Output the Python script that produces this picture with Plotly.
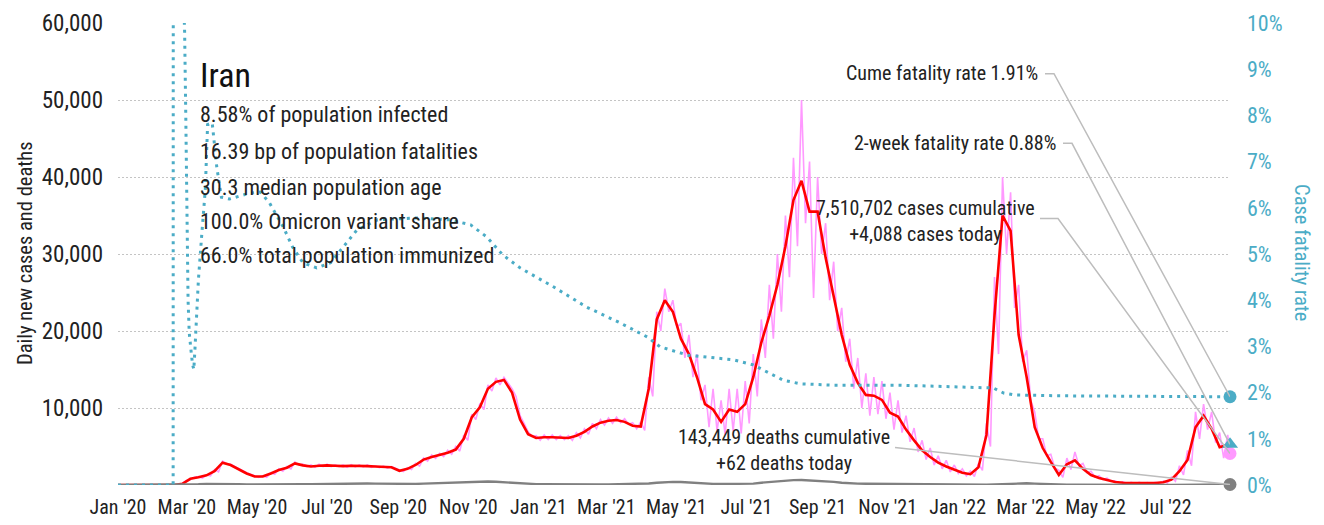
import pandas as pd
import plotly.graph_objects as go

FONT = "Roboto Condensed, Liberation Sans Narrow, Arial Narrow, sans-serif"
CYAN = "#4BACC6"
PINK = "#FF99FF"
RED = "#FF0000"
GRAY = "#808080"
LEADER = "#BDBDBD"
INK = "#222222"

START = "2020-01-01"
END = "2022-08-26"

# Daily new cases (raw reports), sampled twice a week
pink_cases = [
    0, 0, 0, 0, 0, 0, 0, 0, 0, 0, 0, 0, 0, 0,
    0, 30, 200, 600, 700, 1000, 1100, 900, 1300, 1200, 2000, 1700, 3100, 2800, 2700, 2400, 2100, 1800, 1600, 1400,
    1200, 1000, 1200, 1000, 1600, 1400, 2100, 1800, 2400, 2100, 3000, 2600, 2700, 2400, 2600, 2300, 2700, 2400, 2700, 2400,
    2600, 2400, 2600, 2300, 2650, 2350, 2600, 2350, 2600, 2300, 2500, 2250, 2450, 2200, 2400, 2150, 2000, 1750, 2250, 2000,
    2800, 2450, 3500, 3100, 3900, 3450, 4100, 3700, 4500, 4000, 5000, 4400, 6500, 5800, 9200, 8500, 10600, 9800, 13000, 12200,
    13900, 13000, 14000, 13300, 12500, 11500, 9000, 8000, 6900, 6300, 6400, 5800, 6500, 5900, 6500, 5900, 6400, 5900, 6400, 5800,
    6800, 6100, 7300, 6600, 8000, 7300, 8500, 7800, 8700, 8000, 8800, 8100, 8600, 7900, 8100, 7300, 8200, 7100, 14000, 11500,
    22500, 20000, 25500, 22500, 24000, 20500, 21000, 16500, 19500, 14000, 17000, 11000, 13000, 7500, 12500, 7000, 11000, 6500, 12500, 7000,
    12500, 6700, 13500, 8000, 17000, 11500, 21500, 16500, 26000, 19000, 30000, 22500, 35000, 27000, 42500, 31000, 50000, 34000, 42000, 24300,
    40000, 30000, 34000, 24000, 29000, 20000, 23000, 16000, 19000, 12500, 16500, 10000, 14500, 9000, 14000, 9200, 13500, 8600, 12000, 7200,
    11000, 6800, 9000, 5600, 7400, 4300, 5800, 3300, 4800, 2600, 3800, 2100, 3200, 1700, 2600, 1500, 2100, 1200, 1800, 1100,
    2800, 1900, 8000, 5000, 27000, 17000, 40000, 30000, 38000, 23000, 26000, 16000, 17500, 11000, 9500, 6000, 6000, 3800, 4000, 2200,
    1900, 1000, 3500, 2000, 4300, 2500, 2800, 1600, 1800, 1000, 1200, 700, 900, 500, 550, 300, 400, 200, 350, 200,
    350, 200, 330, 180, 350, 200, 500, 250, 1000, 500, 2500, 1300, 4500, 2500, 9500, 6000, 10500, 7200, 9500, 5500,
    6800, 3500, 6500, 4088,
]

# 7-day average of new cases, weekly, plus the latest day
avg_cases = [
    0, 0, 0, 0, 0, 0, 0, 0, 150, 800,
    1000, 1250, 1800, 2900, 2600, 2000, 1500, 1100, 1100, 1500,
    1950, 2250, 2800, 2550, 2400, 2500, 2550, 2500, 2450, 2500,
    2500, 2450, 2400, 2350, 2300, 1850, 2100, 2600, 3300, 3650,
    3900, 4200, 4600, 6000, 8800, 10100, 12500, 13400, 13650, 12000,
    8500, 6600, 6100, 6200, 6200, 6150, 6100, 6400, 6900, 7600,
    8100, 8350, 8450, 8200, 7700, 7600, 12500, 21500, 24000, 22500,
    19000, 17000, 14000, 10500, 9800, 8200, 9800, 9500, 10500, 14000,
    18500, 22000, 26000, 31000, 37000, 39500, 35500, 35500, 29500, 24500,
    19500, 15600, 13260, 11700, 11600, 11050, 9400, 8900, 7200, 5800,
    4500, 3640, 2900, 2400, 2000, 1600, 1400, 2300, 6500, 22000,
    35000, 33000, 19500, 14000, 7500, 4800, 3000, 1300, 2700, 3200,
    2100, 1300, 900, 650, 400, 300, 260, 260, 250, 260,
    350, 700, 1800, 3250, 7500, 9000, 7300, 4900, 5200,
    4300,
]

# Daily deaths, weekly, plus the latest day
daily_deaths = [
    0, 0, 0, 0, 0, 0, 0, 2, 30, 60,
    90, 130, 140, 140, 120, 90, 70, 60, 50, 45,
    50, 60, 70, 90, 110, 130, 150, 190, 210, 210,
    200, 190, 180, 160, 130, 120, 120, 140, 180, 220,
    250, 300, 350, 400, 430, 440, 450, 420, 350, 280,
    200, 150, 120, 100, 85, 80, 75, 75, 75, 80,
    85, 85, 90, 90, 100, 130, 200, 290, 360, 400,
    380, 300, 230, 170, 150, 130, 120, 120, 130, 180,
    300, 400, 500, 580, 630, 640, 600, 560, 480, 400,
    300, 220, 180, 160, 150, 130, 100, 90, 75, 60,
    50, 45, 40, 35, 30, 30, 25, 25, 35, 60,
    120, 200, 240, 230, 180, 130, 90, 60, 40, 30,
    20, 15, 12, 10, 8, 6, 5, 5, 5, 6,
    8, 12, 20, 35, 55, 70, 75, 65, 62,
    62,
]

# Cumulative case fatality rate (%)
cfr_dates = [
    "2020-01-01", "2020-02-18", "2020-02-19", "2020-02-24", "2020-02-27", "2020-02-28",
    "2020-02-29", "2020-03-01", "2020-03-02", "2020-03-03", "2020-03-04", "2020-03-05",
    "2020-03-06", "2020-03-07", "2020-03-08", "2020-03-09", "2020-03-11", "2020-03-14",
    "2020-03-17", "2020-03-19", "2020-03-23", "2020-03-27", "2020-03-31", "2020-04-07",
    "2020-04-25", "2020-05-04", "2020-05-12", "2020-05-24", "2020-06-01", "2020-06-10",
    "2020-06-22", "2020-07-04", "2020-07-15", "2020-07-27", "2020-08-14", "2020-09-17",
    "2020-10-16", "2020-11-03", "2020-11-17", "2020-12-01", "2020-12-16", "2021-01-14",
    "2021-02-12", "2021-03-13", "2021-04-06", "2021-04-17", "2021-05-11", "2021-06-08",
    "2021-06-20", "2021-07-07", "2021-07-19", "2021-08-02", "2021-08-17", "2021-09-15",
    "2021-11-12", "2022-01-21", "2022-02-01", "2022-02-10", "2022-02-19", "2022-03-31",
    "2022-08-26",
]
cfr_pct = [
    0, 0, 100, 19.7, 10.6, 9.8,
    8.0, 5.5, 4.0, 3.3, 3.0, 2.8,
    2.6, 2.5, 2.95, 3.5, 4.44, 5.45,
    6.4, 7.8, 7.84, 6.88, 6.23, 6.19,
    6.32, 6.34, 6.10, 5.58, 5.15, 4.81,
    4.70, 4.81, 5.15, 5.52, 5.74, 5.78,
    5.74, 5.63, 5.37, 4.98, 4.70, 4.29,
    3.85, 3.51, 3.20, 2.99, 2.81, 2.75,
    2.71, 2.60, 2.45, 2.27, 2.19, 2.16,
    2.16, 2.12, 2.10, 1.99, 1.95, 1.93,
    1.91,
]

cases_today = 4088
deaths_today = 62
cume_cfr = 1.91
two_week_cfr = 0.88

stats_lines = [
    "8.58% of population infected",
    "16.39 bp of population fatalities",
    "30.3 median population age",
    "100.0% Omicron variant share",
    "66.0% total population immunized",
]

end_ts = pd.Timestamp(END)
week_dates = list(pd.date_range(START, periods=139, freq="7D")) + [end_ts]
half_week_dates = list(pd.date_range(START, periods=277, freq="84h")) + [end_ts]

fig = go.Figure()

fig.add_trace(go.Scatter(x=half_week_dates, y=pink_cases, mode="lines",
                         line=dict(color=PINK, width=1.6), cliponaxis=False,
                         hoverinfo="skip"))
fig.add_trace(go.Scatter(x=week_dates, y=avg_cases, mode="lines",
                         line=dict(color=RED, width=2.6), cliponaxis=False,
                         hoverinfo="skip"))
fig.add_trace(go.Scatter(x=week_dates, y=daily_deaths, mode="lines",
                         line=dict(color=GRAY, width=2.4), cliponaxis=False,
                         hoverinfo="skip"))
fig.add_trace(go.Scatter(x=pd.to_datetime(cfr_dates), y=cfr_pct, mode="lines",
                         line=dict(color=CYAN, width=3, dash="3px,5px"),
                         yaxis="y2", hoverinfo="skip"))

# end-of-series markers
fig.add_trace(go.Scatter(x=[end_ts], y=[cases_today], mode="markers",
                         marker=dict(color=PINK, size=13), cliponaxis=False))
fig.add_trace(go.Scatter(x=[end_ts], y=[deaths_today], mode="markers",
                         marker=dict(color=GRAY, size=13), cliponaxis=False))
fig.add_trace(go.Scatter(x=[end_ts], y=[two_week_cfr], mode="markers", yaxis="y2",
                         marker=dict(color=CYAN, size=14, symbol="triangle-up"),
                         cliponaxis=False))
fig.add_trace(go.Scatter(x=[end_ts], y=[cume_cfr], mode="markers", yaxis="y2",
                         marker=dict(color=CYAN, size=13), cliponaxis=False))

# leader lines from labels to end points (pixel offsets from the point)
def leader(yref, yval, path):
    return dict(type="path", xref="x", yref=yref, xsizemode="pixel",
                ysizemode="pixel", xanchor=END, yanchor=yval, path=path,
                line=dict(color=LEADER, width=1.5), layer="above")

shapes = [
    leader("y2", cume_cfr, "M-185,323 L-176,323 L0,0"),
    leader("y2", two_week_cfr, "M-167,301 L-158,301 L0,0"),
    leader("y", cases_today, "M-190,235 L-172,235 L0,0"),
    leader("y", deaths_today, "M-335,37 L0,0"),
]

annotations = [
    dict(text="Iran", x=0.0719, y=0.8874, xref="paper", yref="paper",
         xanchor="left", yanchor="middle", showarrow=False,
         font=dict(size=34, color="#111")),
]
stat_y = [0.8009, 0.7229, 0.6450, 0.5714, 0.4957]
for txt, yy in zip(stats_lines, stat_y):
    annotations.append(dict(text=txt, x=0.0719, y=yy, xref="paper", yref="paper",
                            xanchor="left", yanchor="middle", showarrow=False,
                            font=dict(size=22, color=INK)))

annotations += [
    dict(text=f"Cume fatality rate {cume_cfr:.2f}%", x=0.8291, y=0.8918,
         xref="paper", yref="paper", xanchor="right", yanchor="middle",
         showarrow=False, font=dict(size=20, color=INK)),
    dict(text=f"2-week fatality rate {two_week_cfr:.2f}%", x=0.8453, y=0.7403,
         xref="paper", yref="paper", xanchor="right", yanchor="middle",
         showarrow=False, font=dict(size=20, color=INK)),
    dict(text=f"7,510,702 cases cumulative<br>+{cases_today:,} cases today",
         x=0.7266, y=0.5714, xref="paper", yref="paper", xanchor="center",
         yanchor="middle", align="center", showarrow=False,
         font=dict(size=20, color=INK)),
    dict(text=f"143,449 deaths cumulative<br>+{deaths_today} deaths today",
         x=0.5989, y=0.0758, xref="paper", yref="paper", xanchor="center",
         yanchor="middle", align="center", showarrow=False,
         font=dict(size=20, color=INK)),
    dict(text="Daily new cases and deaths", x=-0.0836, y=0.5022, xref="paper",
         yref="paper", xanchor="center", yanchor="middle", textangle=-90,
         showarrow=False, font=dict(size=20.5, color=INK)),
    dict(text="Case fatality rate", x=1.0647, y=0.5022, xref="paper",
         yref="paper", xanchor="center", yanchor="middle", textangle=90,
         showarrow=False, font=dict(size=20.5, color=CYAN)),
]

fig.update_layout(
    width=1324, height=525,
    margin=dict(l=118, r=94, t=23, b=40, autoexpand=False),
    paper_bgcolor="white", plot_bgcolor="white",
    showlegend=False,
    font=dict(family=FONT, size=20, color=INK),
    xaxis=dict(type="date", range=[START, END], dtick="M2", tick0=START,
               tickformat="%b '%y", showgrid=False, zeroline=False,
               showline=False, ticks="", ticklabelstandoff=8, automargin=False,
               tickangle=0, tickfont=dict(size=20, color=INK)),
    yaxis=dict(range=[0, 60000], tickvals=[10000, 20000, 30000, 40000, 50000, 60000],
               tickformat=",", showgrid=True, gridcolor="#C4C4C4", gridwidth=1,
               griddash="2px,2px", zeroline=False, showline=False, ticks="",
               ticklabelstandoff=14, automargin=False,
               tickfont=dict(size=23, color=INK)),
    yaxis2=dict(overlaying="y", side="right", range=[0, 10],
                tickvals=list(range(0, 11)),
                ticktext=[f"{i}%" for i in range(0, 11)],
                showgrid=False, zeroline=False, showline=False, ticks="",
                ticklabelstandoff=16, automargin=False,
                tickfont=dict(size=22, color=CYAN)),
    shapes=shapes,
    annotations=annotations,
)

fig.write_html("out.html")
